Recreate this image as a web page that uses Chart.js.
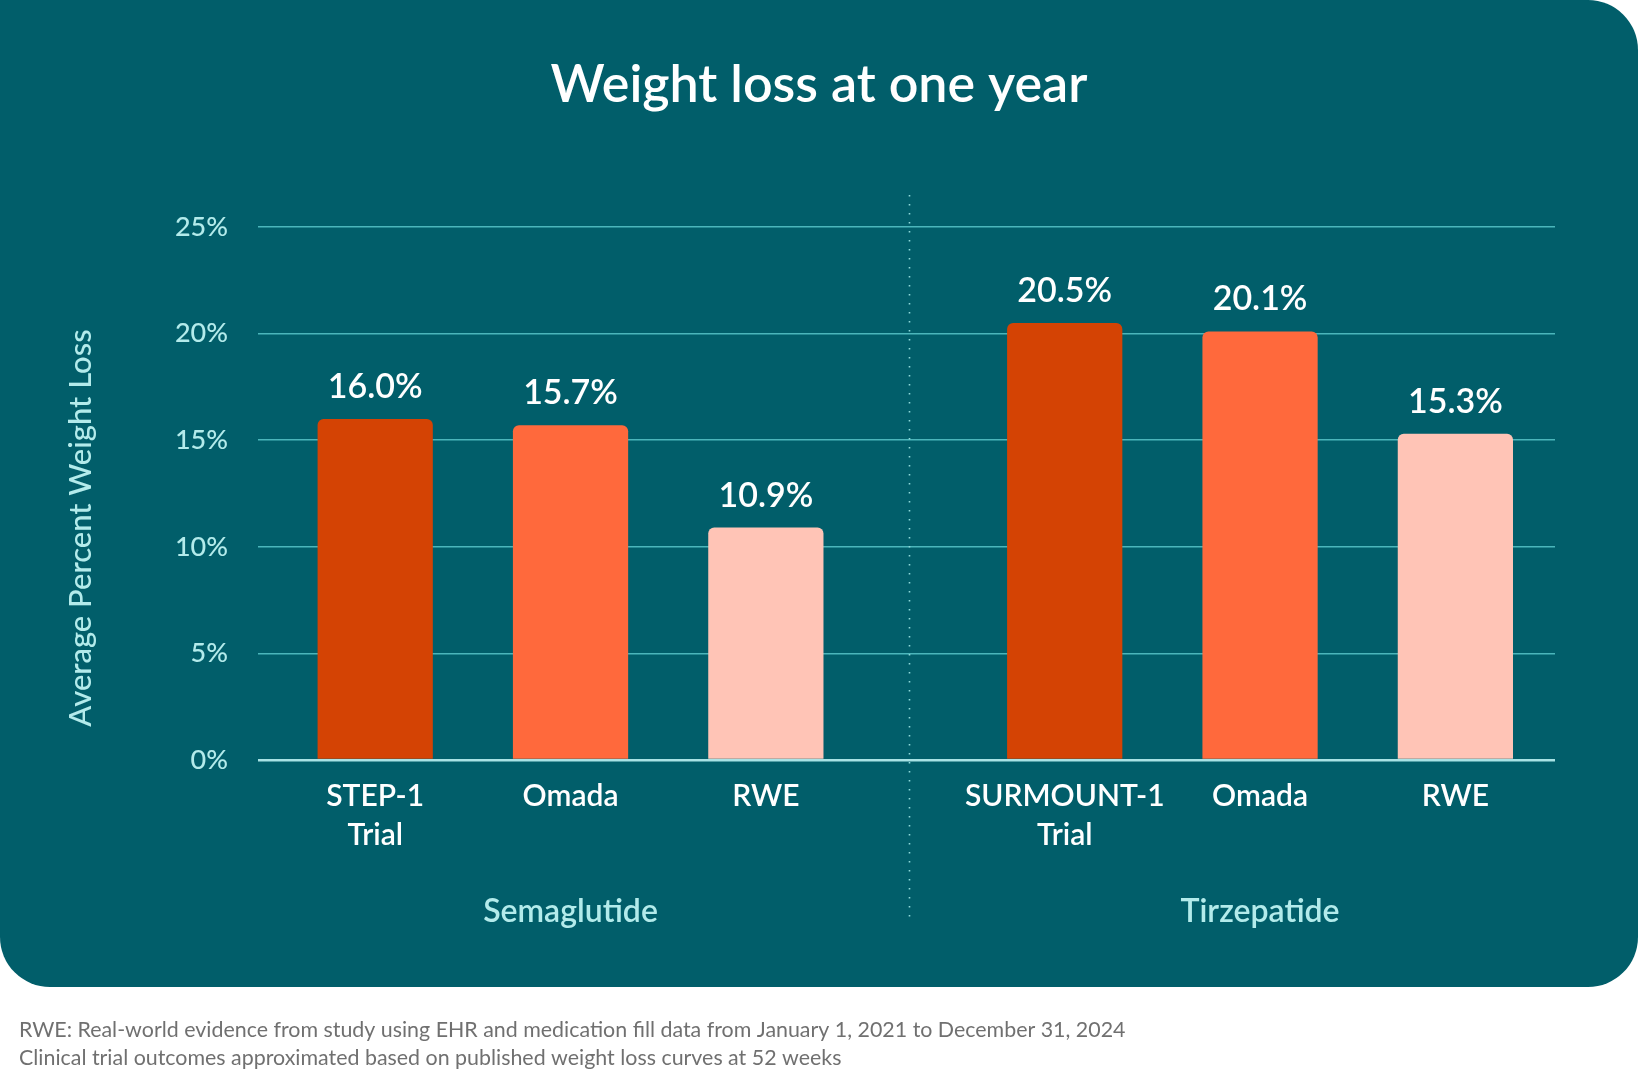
<!DOCTYPE html>
<html>
<head>
<meta charset="utf-8">
<script src="https://cdn.jsdelivr.net/npm/chart.js@4.4.1/dist/chart.umd.min.js"></script>
<style>
  html, body { margin: 0; padding: 0; background: #ffffff; }
  #wrap { width: 1638px; height: 1092px; }
  canvas { display: block; }
</style>
</head>
<body>
<div id="wrap"><canvas id="c" width="1638" height="1092"></canvas></div>
<script>
// ---- data ----
const chartTitle = 'Weight loss at one year';
const yAxisTitle = 'Average Percent Weight Loss';
const groups = ['Semaglutide', 'Tirzepatide'];
const semaglutideLabels = [['STEP-1', 'Trial'], ['Omada'], ['RWE']];
const tirzepatideLabels = [['SURMOUNT-1', 'Trial'], ['Omada'], ['RWE']];
const semaglutideValues = [16.0, 15.7, 10.9];
const tirzepatideValues = [20.5, 20.1, 15.3];
const yTicks = [0, 5, 10, 15, 20, 25];
const footnotes = [
  'RWE: Real-world evidence from study using EHR and medication fill data from January 1, 2021 to December 31, 2024',
  'Clinical trial outcomes approximated based on published weight loss curves at 52 weeks'
];

// ---- styles / layout ----
const FONT = 'Lato, "Noto Sans", sans-serif';
const PANEL = '#015e6a';
const BAR_COLORS = ['#d44304', '#ff693c', '#ffc4b6'];
const CYAN_TEXT = '#b3ebeb';
const GRID = '#4bb6bb';
const BASELINE = '#a8e2e4';
const GROUP_STRIDE = 3.53;   // bar slots from one group start to the next
const EDGE_LEFT = 0.6;       // empty slot space before first bar
const EDGE_RIGHT = 0.51;     // empty slot space after last bar
const DIVIDER_FRACTION = 0.48; // where the dotted divider sits inside the gap

const groupLabels = [semaglutideLabels, tirzepatideLabels];
const groupValues = [semaglutideValues, tirzepatideValues];

const points = [], colors = [], tickLabels = [], tickPositions = [];
groupValues.forEach((vals, g) => {
  vals.forEach((v, i) => {
    const x = g * GROUP_STRIDE + i;
    points.push({ x: x, y: v });
    colors.push(BAR_COLORS[i % BAR_COLORS.length]);
    tickPositions.push(x);
    tickLabels.push(groupLabels[g][i]);
  });
});
const lastPos = tickPositions[tickPositions.length - 1];

const decorPlugin = {
  id: 'decor',
  beforeDraw(chart) {
    const ctx = chart.ctx;
    const W = chart.width;
    ctx.save();
    ctx.fillStyle = '#ffffff';
    ctx.fillRect(0, 0, W, chart.height);
    ctx.fillStyle = PANEL;
    ctx.beginPath();
    ctx.roundRect(0, 0, W, 987, [0, 50, 50, 50]);
    ctx.fill();
    ctx.restore();
  },
  afterDraw(chart) {
    const ctx = chart.ctx;
    const xs = chart.scales.x;
    ctx.save();
    // title
    ctx.fillStyle = '#ffffff';
    ctx.font = '600 52px ' + FONT;
    ctx.textAlign = 'center';
    ctx.textBaseline = 'alphabetic';
    ctx.fillText(chartTitle, chart.width / 2, 102);

    // y axis title
    ctx.save();
    ctx.translate(81, 528);
    ctx.rotate(-Math.PI / 2);
    ctx.fillStyle = CYAN_TEXT;
    ctx.font = '500 31px ' + FONT;
    ctx.textAlign = 'center';
    ctx.textBaseline = 'middle';
    ctx.fillText(yAxisTitle, 0, 0);
    ctx.restore();

    // divider between groups
    const lastOfFirst = (groupValues[0].length - 1);
    const firstOfSecond = GROUP_STRIDE;
    const dv = lastOfFirst + (firstOfSecond - lastOfFirst) * DIVIDER_FRACTION;
    const dx = Math.round(xs.getPixelForValue(dv)) + 0.5;
    ctx.strokeStyle = '#8fd9da';
    ctx.lineWidth = 1.6;
    ctx.setLineDash([1.6, 7.4]);
    ctx.beginPath();
    ctx.moveTo(dx, 195);
    ctx.lineTo(dx, 920);
    ctx.stroke();
    ctx.setLineDash([]);

    // group labels
    ctx.fillStyle = CYAN_TEXT;
    ctx.font = '600 32px ' + FONT;
    ctx.textAlign = 'center';
    ctx.textBaseline = 'middle';
    groups.forEach((name, g) => {
      const mid = g * GROUP_STRIDE + (groupValues[g].length - 1) / 2;
      ctx.fillText(name, xs.getPixelForValue(mid), 912);
    });

    // footnotes
    ctx.fillStyle = '#707070';
    ctx.font = '21.4px ' + FONT;
    ctx.textAlign = 'left';
    ctx.textBaseline = 'alphabetic';
    footnotes.forEach((t, i) => ctx.fillText(t, 19, 1037 + i * 28));
    ctx.restore();
  },
  afterDatasetsDraw(chart) {
    const ctx = chart.ctx;
    const meta = chart.getDatasetMeta(0);
    ctx.save();
    ctx.fillStyle = '#ffffff';
    ctx.font = '600 34px ' + FONT;
    ctx.textAlign = 'center';
    ctx.textBaseline = 'alphabetic';
    meta.data.forEach((bar, i) => {
      const v = chart.data.datasets[0].data[i].y;
      ctx.fillText(v.toFixed(1) + '%', bar.x, bar.y - 21);
    });
    ctx.restore();
  }
};

new Chart(document.getElementById('c'), {
  type: 'bar',
  data: {
    datasets: [{
      data: points,
      backgroundColor: colors,
      borderWidth: 0,
      borderRadius: { topLeft: 6, topRight: 6, bottomLeft: 0, bottomRight: 0 },
      borderSkipped: 'start',
      categoryPercentage: 1,
      barPercentage: 0.59
    }]
  },
  options: {
    responsive: false,
    animation: false,
    events: [],
    layout: { padding: { top: 227, right: 83, left: 0, bottom: 212 } },
    plugins: { legend: { display: false }, tooltip: { enabled: false } },
    scales: {
      x: {
        type: 'linear',
        offset: false,
        bounds: 'data',
        min: -EDGE_LEFT,
        max: lastPos + EDGE_RIGHT,
        grid: { display: false, offset: false },
        border: { display: false },
        afterBuildTicks(scale) { scale.ticks = tickPositions.map(v => ({ value: v })); },
        afterFit(scale) { scale.height = 120; },
        ticks: {
          autoSkip: false,
          maxRotation: 0,
          minRotation: 0,
          padding: 9,
          color: '#ffffff',
          font: { family: FONT, size: 30, weight: '600', lineHeight: 1.3 },
          callback: (value, index) => tickLabels[index]
        }
      },
      y: {
        min: yTicks[0],
        max: yTicks[yTicks.length - 1],
        afterBuildTicks(scale) { scale.ticks = yTicks.map(v => ({ value: v })); },
        afterFit(scale) { scale.width = 258; },
        border: { display: false },
        grid: {
          drawTicks: false,
          color: ctx => ctx.tick && ctx.tick.value === 0 ? BASELINE : GRID,
          lineWidth: ctx => ctx.tick && ctx.tick.value === 0 ? 2.5 : 1.5
        },
        ticks: {
          padding: 30,
          color: CYAN_TEXT,
          font: { family: FONT, size: 27, weight: '500' },
          callback: v => v + '%'
        }
      }
    }
  },
  plugins: [decorPlugin]
});
</script>
</body>
</html>
